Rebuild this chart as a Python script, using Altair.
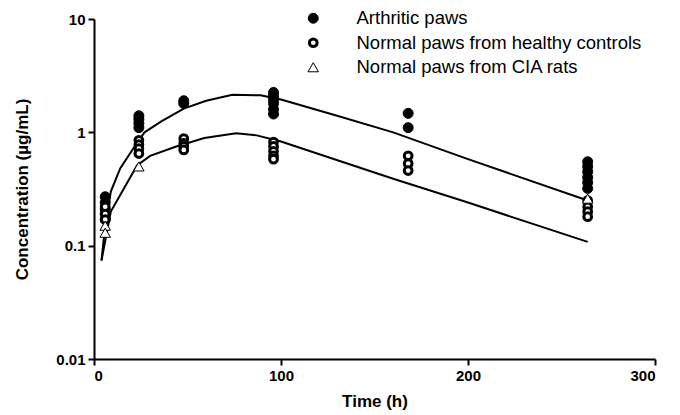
import altair as alt
import pandas as pd

# Observed paw concentrations (µg/mL) by sampling time (h)
groups = ["Arthritic paws", "Normal paws from healthy controls", "Normal paws from CIA rats"]

arthritic_t = [6, 6, 6, 6, 6,
               24, 24, 24, 24,
               48, 48,
               96, 96, 96, 96, 96, 96,
               168, 168,
               264, 264, 264, 264, 264, 264]
arthritic_c = [0.27, 0.24, 0.21, 0.19, 0.17,
               1.4, 1.3, 1.2, 1.1,
               1.9, 1.8,
               2.25, 2.1, 1.95, 1.8, 1.6, 1.45,
               1.47, 1.1,
               0.55, 0.5, 0.45, 0.4, 0.36, 0.32]

healthy_t = [6, 6, 6,
             24, 24, 24, 24,
             48, 48, 48, 48,
             96, 96, 96, 96, 96,
             168, 168, 168,
             264, 264, 264, 264]
healthy_c = [0.22, 0.19, 0.17,
             0.85, 0.78, 0.72, 0.65,
             0.88, 0.8, 0.75, 0.7,
             0.82, 0.75, 0.68, 0.62, 0.58,
             0.62, 0.53, 0.46,
             0.25, 0.22, 0.2, 0.18]

cia_t = [6, 6, 24, 264]
cia_c = [0.15, 0.13, 0.50, 0.26]

# Fitted profiles
fit_arthritic_t = [4, 6, 9, 14, 21, 27, 36, 48, 60, 74, 89, 100, 130, 160, 200, 264]
fit_arthritic_c = [0.074, 0.15, 0.30, 0.48, 0.72, 1.0, 1.25, 1.62, 1.9, 2.15, 2.12, 1.95, 1.4, 1.0, 0.58, 0.25]
fit_normal_t = [4, 9, 16, 23, 30, 44, 59, 76, 87, 100, 160, 200, 264]
fit_normal_c = [0.074, 0.20, 0.32, 0.51, 0.62, 0.75, 0.89, 0.98, 0.94, 0.83, 0.39, 0.24, 0.108]

points = pd.concat([
    pd.DataFrame({"t": arthritic_t, "c": arthritic_c, "group": groups[0]}),
    pd.DataFrame({"t": healthy_t, "c": healthy_c, "group": groups[1]}),
    pd.DataFrame({"t": cia_t, "c": cia_c, "group": groups[2]}),
], ignore_index=True)

fits = pd.concat([
    pd.DataFrame({"t": fit_arthritic_t, "c": fit_arthritic_c, "fit": "arthritic"}),
    pd.DataFrame({"t": fit_normal_t, "c": fit_normal_c, "fit": "normal"}),
], ignore_index=True)

FONT = "Liberation Sans"

x_enc = alt.X("t:Q", scale=alt.Scale(domain=[0, 300], nice=False),
              axis=alt.Axis(values=[0, 100, 200, 300], title="Time (h)"))
y_enc = alt.Y("c:Q", scale=alt.Scale(type="log", domain=[0.01, 10], nice=False),
              axis=alt.Axis(values=[0.01, 0.1, 1, 10], title="Concentration (µg/mL)",
                            labelExpr="format(datum.value, '~g')"))

lines = alt.Chart(fits).mark_line(color="black", strokeWidth=2).encode(
    x=x_enc, y=y_enc, detail="fit:N"
)

legend = alt.Legend(title=None, orient="none", legendX=210, legendY=-10,
                    labelFontSize=18.5, labelFont=FONT, labelColor="black", labelLimit=0,
                    labelOffset=34, rowPadding=4.5)

pts = alt.Chart(points).mark_point(opacity=1, filled=False).encode(
    x=x_enc, y=y_enc,
    shape=alt.Shape("group:N", scale=alt.Scale(domain=groups, range=["circle", "circle", "triangle-up"]), legend=legend),
    fill=alt.Fill("group:N", scale=alt.Scale(domain=groups, range=["black", "white", "white"]), legend=legend),
    stroke=alt.Stroke("group:N", scale=alt.Scale(domain=groups, range=["black", "black", "black"]), legend=legend),
    size=alt.Size("group:N", scale=alt.Scale(type="ordinal", domain=groups, range=[100, 60, 110]), legend=legend),
    strokeWidth=alt.StrokeWidth("group:N", scale=alt.Scale(type="ordinal", domain=groups, range=[1, 3, 1]), legend=legend),
)

chart = (lines + pts).properties(
    width=561, height=340,
    autosize=alt.AutoSizeParams(type="none"),
    padding={"left": 94, "top": 19, "right": 25, "bottom": 56},
).configure_view(stroke=None).configure_axis(
    domainColor="black", domainWidth=2, tickColor="black", tickWidth=2, tickSize=6,
    grid=False, labelFont=FONT, labelFontSize=15, labelFontWeight="bold", labelColor="black",
    titleFont=FONT, titleFontSize=17, titleFontWeight="bold", titleColor="black",
).configure_axisX(titlePadding=10, labelPadding=3).configure_axisY(titlePadding=24, labelPadding=3)

chart.save("out.html", embed_options={"renderer": "svg", "actions": False})
